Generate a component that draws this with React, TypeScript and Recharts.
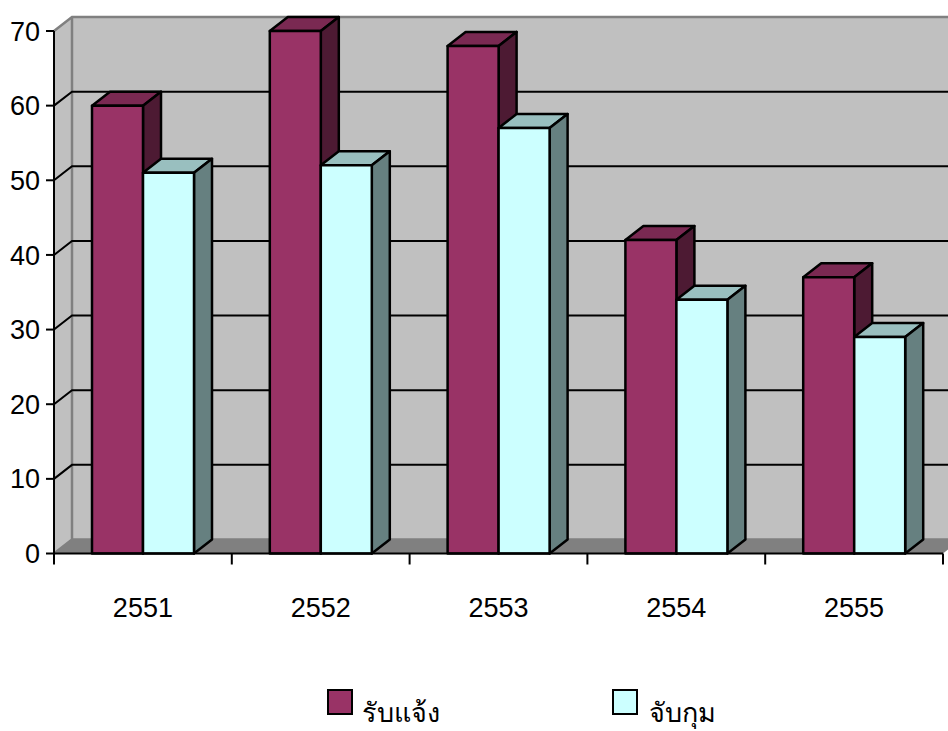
import { Bar, BarChart, CartesianGrid, Legend, XAxis, YAxis } from "recharts";

const years = ["2551", "2552", "2553", "2554", "2555"];
const reported = [60, 70, 68, 42, 37];
const arrested = [51, 52, 57, 34, 29];
const yTicks = [0, 10, 20, 30, 40, 50, 60, 70];

const data = years.map((year, i) => ({
	year,
	reported: reported[i],
	arrested: arrested[i],
}));

const DX = 18;
const DY = 14;
const BAND = 177.8;
const AXIS_FONT = "'Liberation Sans', Arial, sans-serif";

function Walls({ x, y, width, height }: any) {
	const bottom = y + height;
	const right = x + width + 5;
	return (
		<g>
			<rect x={x + DX} y={y - DY} width={right - x - DX} height={height} fill="#C0C0C0" />
			<polygon
				points={`${x},${y} ${x + DX},${y - DY} ${x + DX},${bottom - DY} ${x},${bottom}`}
				fill="#C0C0C0"
			/>
			<polygon
				points={`${x},${bottom} ${x + DX},${bottom - DY} ${right},${bottom - DY} ${right},${bottom - 4} ${x + width},${bottom}`}
				fill="#808080"
			/>
			<path
				d={`M${x},${y} L${x + DX},${y - DY} L${right},${y - DY} M${x + DX},${y - DY} L${x + DX},${bottom - DY} L${right},${bottom - DY} M${x},${bottom} L${x + DX},${bottom - DY}`}
				fill="none"
				stroke="#808080"
				strokeWidth={2.5}
			/>
		</g>
	);
}

function GridLine({ x1, x2, y1, index, x, y, width, height }: any) {
	// recharts draws the grid first, so the walls go in with its first line
	const isEdge = y1 < 40 || y1 > 545;
	return (
		<g>
			{index === 0 && <Walls x={x} y={y} width={width} height={height} />}
			{!isEdge && (
				<path
					d={`M${x1},${y1} L${x1 + DX},${y1 - DY} L${x2 + 5},${y1 - DY}`}
					fill="none"
					stroke="#000"
					strokeWidth={2}
				/>
			)}
		</g>
	);
}

function Bar3D({ x, y, width, height, fill, topFill, sideFill }: any) {
	const b = y + height;
	const r = x + width;
	return (
		<g stroke="#000" strokeWidth={2.5} strokeLinejoin="round">
			<polygon points={`${x},${y} ${x + DX},${y - DY} ${r + DX},${y - DY} ${r},${y}`} fill={topFill} />
			<polygon points={`${r},${y} ${r + DX},${y - DY} ${r + DX},${b - DY} ${r},${b}`} fill={sideFill} />
			<rect x={x} y={y} width={width} height={height} fill={fill} />
		</g>
	);
}

function YearTick({ x, y, payload, index }: any) {
	// y comes in below the axis line by the default tick size
	const axisY = y - 8;
	const left = x - BAND / 2;
	return (
		<g>
			<line x1={left} y1={axisY} x2={left} y2={axisY + 11} stroke="#000" strokeWidth={2} />
			{index === years.length - 1 && (
				<line x1={left + BAND} y1={axisY} x2={left + BAND} y2={axisY + 11} stroke="#000" strokeWidth={2} />
			)}
			<text x={x} y={axisY + 63} textAnchor="middle" fontSize={27} fontFamily={AXIS_FONT} fill="#000">
				{payload.value}
			</text>
		</g>
	);
}

function LegendBox({ payload }: any) {
	const lefts = [327, 612];
	const textLefts = [362, 649];
	return (
		<div style={{ position: "relative", height: 51 }}>
			{(payload ?? []).map((entry: any, i: number) => (
				<div key={entry.value}>
					<div
						style={{
							position: "absolute",
							left: lefts[i],
							top: 9,
							width: 22,
							height: 22,
							background: entry.color,
							border: "2px solid #000",
						}}
					/>
					<div
						style={{
							position: "absolute",
							left: textLefts[i],
							top: 9,
							fontSize: 27,
							lineHeight: "46px",
							fontFamily: "'Noto Sans', 'DejaVu Sans', sans-serif",
							color: "#000",
						}}
					>
						{entry.value}
					</div>
				</div>
			))}
		</div>
	);
}

export default function App() {
	return (
		<div style={{ position: "absolute", left: 0, top: 0, width: 948, height: 731, overflow: "hidden", background: "#fff" }}>
			<BarChart
				width={948}
				height={731}
				data={data}
				margin={{ top: 31, right: 5, bottom: 0, left: 0 }}
				barGap={0}
				barSize={51}
			>
				<CartesianGrid vertical={false} horizontal={<GridLine />} />
				<XAxis
					dataKey="year"
					height={126.5}
					axisLine={{ stroke: "#000", strokeWidth: 2 }}
					tickLine={false}
					interval={0}
					tick={<YearTick />}
				/>
				<YAxis
					width={54}
					domain={[0, 70]}
					ticks={yTicks}
					interval={0}
					axisLine={{ stroke: "#000", strokeWidth: 2 }}
					tickLine={{ stroke: "#000", strokeWidth: 2 }}
					tickSize={8}
					tickMargin={6}
					tick={{ fill: "#000", fontSize: 27, fontFamily: AXIS_FONT }}
				/>
				<Bar
					dataKey="reported"
					name="รับแจ้ง"
					fill="#993366"
					isAnimationActive={false}
					shape={<Bar3D topFill="#7A2952" sideFill="#4D1A33" />}
				/>
				<Bar
					dataKey="arrested"
					name="จับกุม"
					fill="#CCFFFF"
					isAnimationActive={false}
					shape={<Bar3D topFill="#99BFBF" sideFill="#668080" />}
				/>
				<Legend
					content={<LegendBox />}
					itemSorter={null}
					wrapperStyle={{ position: "absolute", left: 0, top: 680, width: 948, height: 51 }}
				/>
			</BarChart>
		</div>
	);
}
